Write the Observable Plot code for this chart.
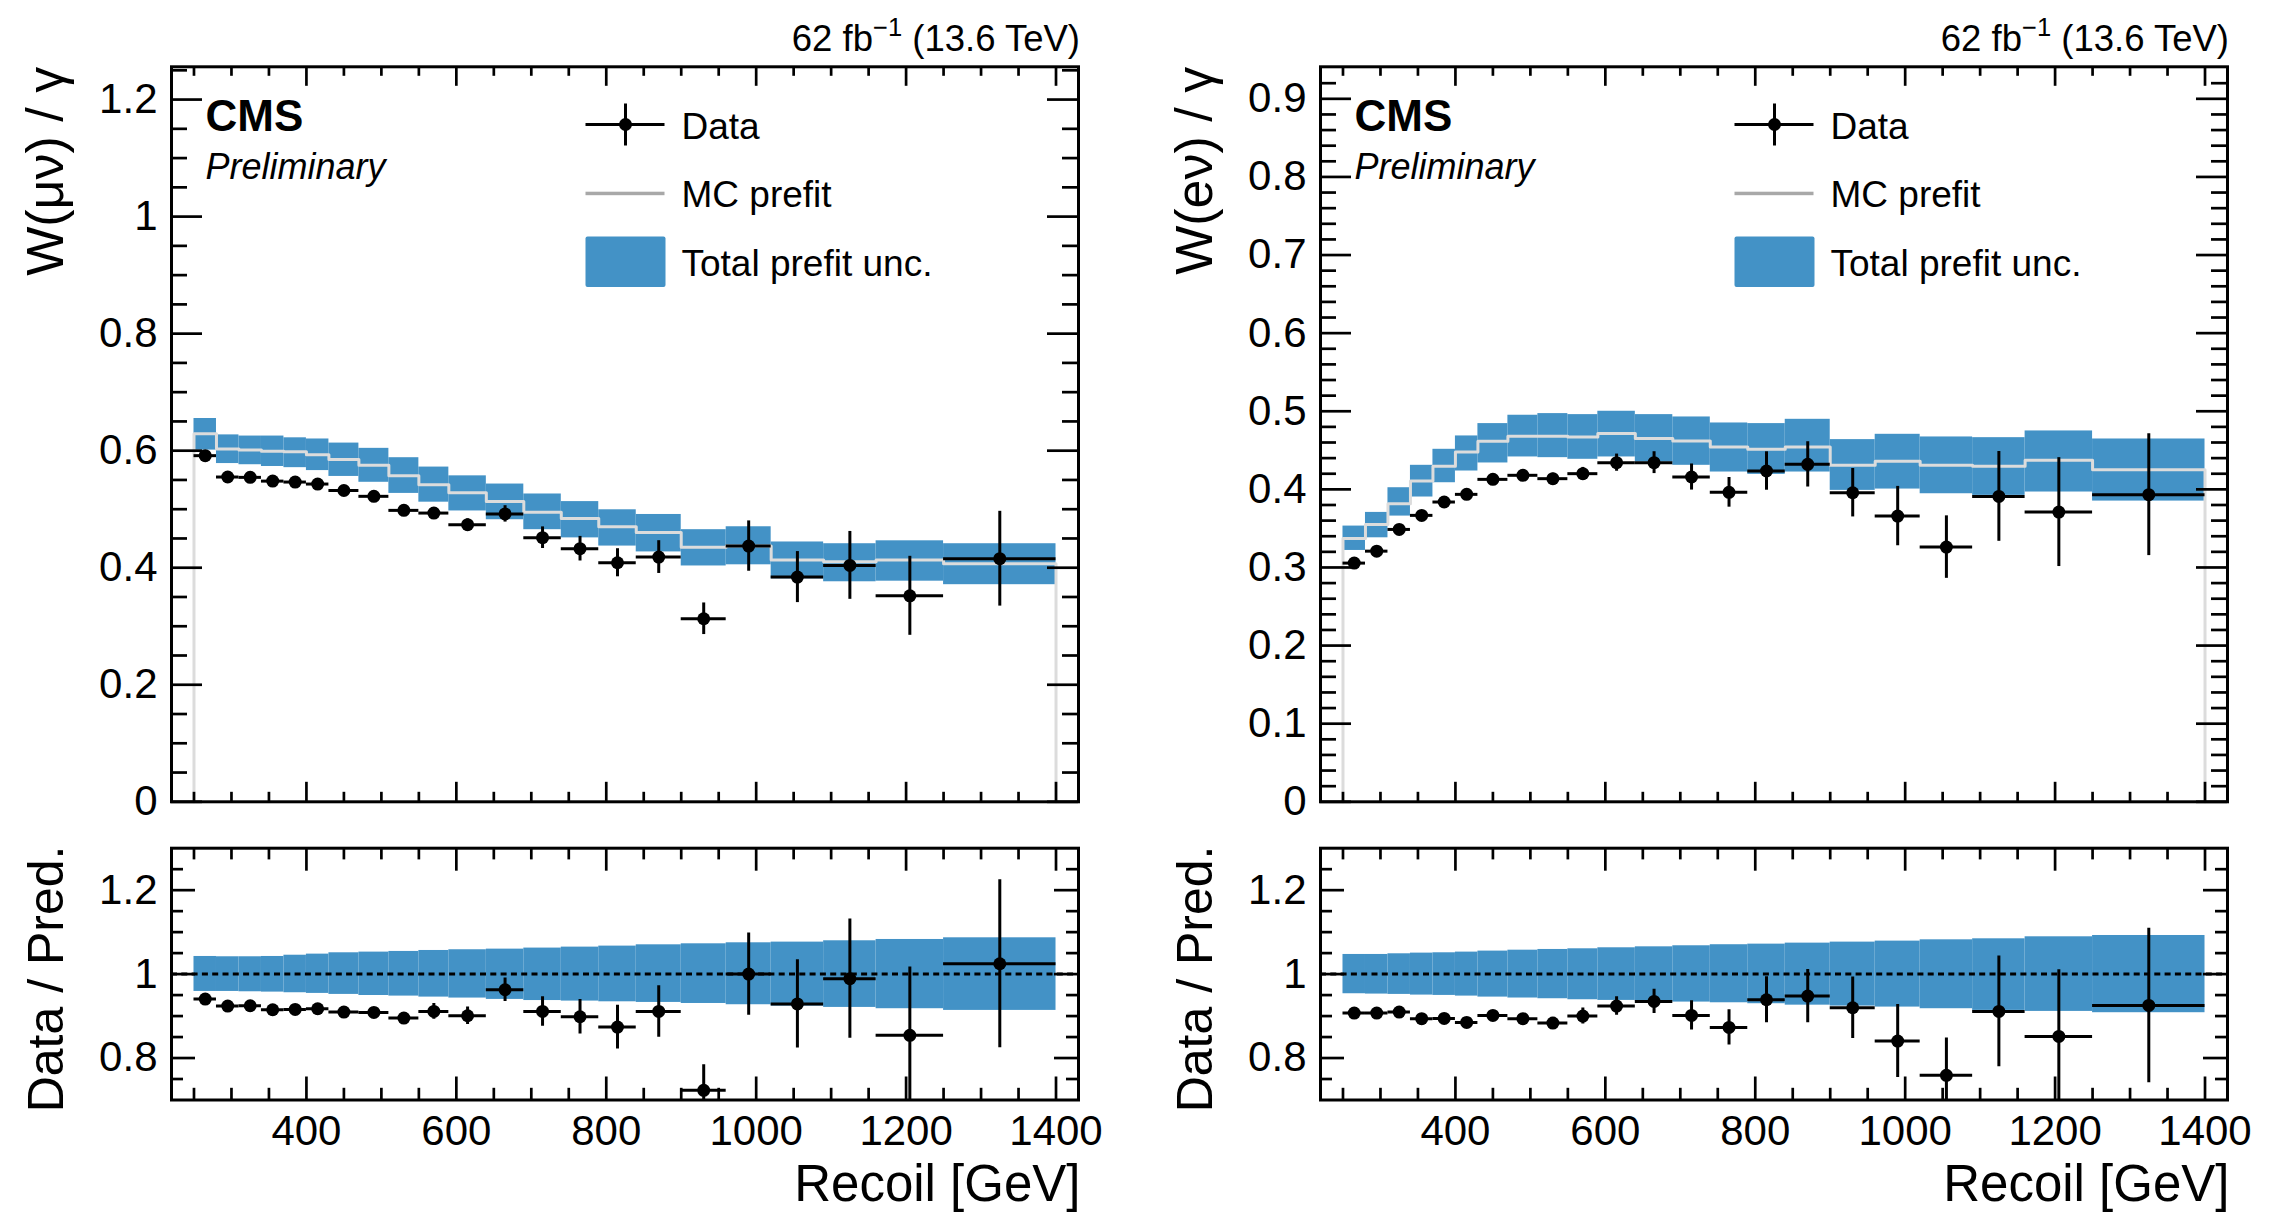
<!DOCTYPE html>
<html><head><meta charset="utf-8">
<script src="https://cdn.jsdelivr.net/npm/d3@7"></script>
<script src="https://cdn.jsdelivr.net/npm/@observablehq/plot@0.6"></script>
<style>
body{margin:0;background:#fff;}
#root{position:relative;width:2284px;height:1222px;overflow:hidden;background:#fff;font-family:"Liberation Sans",Arial,sans-serif;}
.panel{position:absolute;width:1142px;}
.lumi{position:absolute;font-size:36.5px;line-height:1;white-space:nowrap;color:#000;font-family:"Liberation Sans",Arial,sans-serif;}
.lumi sup{font-size:0.7em;vertical-align:0.6em;line-height:0;}
</style></head><body><div id="root"></div>
<script>
// ---------------- data ----------------
const edges = [250,280,310,340,370,400,430,470,510,550,590,640,690,740,790,840,900,960,1020,1090,1160,1250,1400];

// W(mu nu) / gamma
const mcMu     = [0.629,0.603,0.601,0.599,0.598,0.593,0.585,0.575,0.557,0.542,0.528,0.513,0.495,0.484,0.470,0.460,0.435,0.437,0.413,0.410,0.413,0.407];
const bandMuHi = [0.655,0.627,0.625,0.625,0.622,0.620,0.613,0.604,0.588,0.572,0.557,0.543,0.526,0.513,0.499,0.491,0.465,0.470,0.444,0.441,0.446,0.441];
const bandMuLo = [0.601,0.578,0.576,0.573,0.571,0.566,0.556,0.546,0.527,0.512,0.497,0.482,0.465,0.451,0.437,0.427,0.403,0.405,0.381,0.376,0.377,0.371];
const dataMu   = [0.5915,0.555,0.5544,0.548,0.5464,0.543,0.532,0.522,0.498,0.4934,0.4735,0.492,0.4513,0.4325,0.4085,0.4182,0.3128,0.437,0.384,0.404,0.352,0.4154];
const errMu    = [0.004,0.005,0.005,0.005,0.005,0.006,0.006,0.007,0.007,0.008,0.010,0.014,0.0185,0.021,0.024,0.028,0.027,0.043,0.0436,0.058,0.0675,0.081];
const ratioMu    = [0.9405,0.9238,0.9246,0.915,0.9159,0.9175,0.9095,0.9087,0.8952,0.911,0.9008,0.9627,0.911,0.8984,0.8738,0.911,0.723,1.0,0.929,0.989,0.854,1.0246];
const ratioErrMu = [0.006,0.008,0.008,0.008,0.008,0.009,0.010,0.012,0.013,0.0187,0.021,0.028,0.035,0.041,0.052,0.0615,0.061,0.098,0.105,0.142,0.163,0.200];
const rBandMuHi  = [1.042,1.0413,1.0413,1.042,1.045,1.0476,1.0508,1.0524,1.054,1.0563,1.058,1.0595,1.062,1.0643,1.0667,1.0698,1.0722,1.0746,1.0762,1.0794,1.0825,1.0865];
const rBandMuLo  = [0.9587,0.9587,0.9579,0.9571,0.9556,0.954,0.9516,0.949,0.9476,0.9452,0.9429,0.9397,0.937,0.9357,0.934,0.9325,0.930,0.927,0.9238,0.9206,0.9175,0.9135];

// W(e nu) / gamma
const mcE     = [0.3372,0.3551,0.3816,0.4107,0.4295,0.4479,0.4615,0.4679,0.4679,0.4671,0.4714,0.465,0.462,0.4543,0.4513,0.4543,0.4308,0.4359,0.4308,0.4295,0.4372,0.4252];
const bandEHi = [0.353,0.3705,0.4021,0.4308,0.4513,0.4684,0.4842,0.4949,0.497,0.4957,0.500,0.4957,0.4927,0.485,0.4842,0.4897,0.4637,0.4705,0.4671,0.4662,0.4748,0.4645];
const bandELo = [0.3218,0.338,0.3658,0.3902,0.4085,0.4235,0.4338,0.4415,0.4406,0.4385,0.4415,0.435,0.4308,0.4222,0.4192,0.4222,0.3987,0.4004,0.3944,0.3923,0.3966,0.385];
const dataE   = [0.3056,0.3209,0.3487,0.3667,0.3838,0.3936,0.4128,0.418,0.4137,0.4201,0.4342,0.4342,0.4158,0.3962,0.4235,0.432,0.3957,0.3658,0.3261,0.391,0.3709,0.3932];
const errE    = [0.004,0.005,0.005,0.005,0.005,0.006,0.006,0.006,0.007,0.008,0.011,0.014,0.0167,0.019,0.0246,0.029,0.031,0.038,0.040,0.0575,0.0697,0.078];
const ratioE    = [0.9071,0.9071,0.9095,0.8937,0.8944,0.8849,0.9016,0.8937,0.8833,0.900,0.9238,0.9349,0.9016,0.873,0.9389,0.9476,0.9198,0.8405,0.7587,0.9111,0.8516,0.9254];
const ratioErrE = [0.006,0.007,0.008,0.008,0.008,0.009,0.010,0.011,0.012,0.019,0.022,0.029,0.035,0.042,0.055,0.0635,0.073,0.087,0.089,0.132,0.159,0.184];
const rBandEHi  = [1.0468,1.0468,1.0484,1.050,1.0508,1.0524,1.0548,1.057,1.0587,1.0603,1.0627,1.065,1.0675,1.070,1.0714,1.0738,1.0762,1.0786,1.0817,1.0841,1.0889,1.092];
const rBandELo  = [0.9532,0.9524,0.9516,0.950,0.9492,0.9476,0.9452,0.943,0.9413,0.9389,0.9373,0.935,0.9333,0.9317,0.9294,0.926,0.9238,0.9214,0.9175,0.9135,0.9111,0.908];

// axes / ticks
const xDomain = [220, 1430];
const xMajor = [400,600,800,1000,1200,1400];
const xMinor = [250,300,350,450,500,550,650,700,750,850,900,950,1050,1100,1150,1250,1300,1350];
const yMuDomain = [0, 1.256];
const yMuMajor = [0,0.2,0.4,0.6,0.8,1,1.2];
const yMuMinor = [0.05,0.1,0.15,0.25,0.3,0.35,0.45,0.5,0.55,0.65,0.7,0.75,0.85,0.9,0.95,1.05,1.1,1.15,1.25];
const yEDomain = [0, 0.941];
const yEMajor = [0,0.1,0.2,0.3,0.4,0.5,0.6,0.7,0.8,0.9];
const yEMinor = d3.range(0, 47).map(i => +(i*0.02).toFixed(2)).filter(v => Math.round(v*100) % 10 !== 0);
const rDomain = [0.7, 1.3];
const rMajor = [0.8,1,1.2];
const rMinor = [0.75,0.85,0.9,0.95,1.05,1.1,1.15,1.25];

const texts = {
  lumi: ["62 fb", "−1", " (13.6 TeV)"],
  cms: "CMS", prelim: "Preliminary",
  legData: "Data", legMC: "MC prefit", legUnc: "Total prefit unc.",
  yMu: "W(μν) / γ", yE: "W(eν) / γ", yRatio: "Data / Pred.", x: "Recoil [GeV]"
};

// ---------------- style ----------------
const BAND = "#4392c6";
const FONT = '"Liberation Sans", Arial, Helvetica, sans-serif';
const FW = 907, TOPH = 735, RATH = 251.8;
const fmt = d3.format("~g");
const styleObj = {fontFamily: FONT, fontSize: "42px", color: "black", background: "transparent", overflow: "visible"};

function makeBins() { return edges.slice(0, -1).map((lo, i) => ({lo, hi: edges[i + 1], c: (lo + edges[i + 1]) / 2, i})); }

function xTickMarks(yDom, H, xl) {
  const ky = (yDom[1] - yDom[0]) / H;
  const st = {stroke: "black", strokeWidth: 2.7};
  const out = [];
  for (const [vals, len] of [[xMajor, xl[0]], [xMinor, xl[1]]]) {
    out.push(Plot.ruleX(vals, {x: d => d, y1: () => yDom[0], y2: () => yDom[0] + len * ky, ...st}));
    out.push(Plot.ruleX(vals, {x: d => d, y1: () => yDom[1] - len * ky, y2: () => yDom[1], ...st}));
  }
  return out;
}
function yTickMarks(maj, min, yl) {
  const kx = (xDomain[1] - xDomain[0]) / FW;
  const st = {stroke: "black", strokeWidth: 2.7};
  const out = [];
  for (const [vals, len] of [[maj, yl[0]], [min, yl[1]]]) {
    out.push(Plot.ruleY(vals, {y: d => d, x1: () => xDomain[0], x2: () => xDomain[0] + len * kx, ...st}));
    out.push(Plot.ruleY(vals, {y: d => d, x1: () => xDomain[1] - len * kx, x2: () => xDomain[1], ...st}));
  }
  return out;
}

function topPanel(o) {
  const bins = makeBins().map(b => ({...b, mc: o.mc[b.i], bLo: o.bLo[b.i], bHi: o.bHi[b.i], v: o.data[b.i], e: o.err[b.i]}));
  const step = [{x: edges[0], y: 0}];
  bins.forEach(b => { step.push({x: b.lo, y: b.mc}); step.push({x: b.hi, y: b.mc}); });
  step.push({x: edges[edges.length - 1], y: 0});
  const frameRect = (l, t, w, h, fill, extra = {}) => Plot.frame({insetLeft: l, insetTop: t, insetRight: FW - l - w, insetBottom: TOPH - t - h, fill, stroke: "none", ...extra});
  return Plot.plot({
    width: 1142, height: 825, marginLeft: o.ml, marginRight: o.mr, marginTop: 66.3, marginBottom: 23.7,
    x: {domain: xDomain, axis: null, label: null},
    y: {domain: o.yDomain, label: null},
    style: styleObj,
    marks: [
      Plot.rect(bins, {x1: "lo", x2: "hi", y1: "bLo", y2: "bHi", fill: BAND}),
      Plot.line(step, {x: "x", y: "y", stroke: "#dcdcdc", strokeWidth: 3}),
      Plot.ruleY(bins, {y: "v", x1: "lo", x2: "hi", stroke: "black", strokeWidth: 3}),
      Plot.ruleX(bins, {x: "c", y1: d => d.v - d.e, y2: d => d.v + d.e, stroke: "black", strokeWidth: 3}),
      Plot.dot(bins, {x: "c", y: "v", r: 6.5, fill: "black"}),
      ...xTickMarks(o.yDomain, TOPH, [19.5, 9.5]),
      ...yTickMarks(o.yMajor, o.yMinor, [31, 16]),
      Plot.axisY({ticks: o.yMajor, anchor: "left", tickSize: 0, tickPadding: 14, tickFormat: fmt, label: null, fontSize: 42}),
      Plot.frame({stroke: "black", strokeWidth: 3}),
      // legend
      frameRect(414, 56.2, 79, 3, "black"),
      frameRect(452.5, 36.7, 3, 42, "black"),
      Plot.dot([0], {frameAnchor: "top-left", dx: 454, dy: 57.7, r: 6.5, fill: "black"}),
      frameRect(414, 124.9, 79, 3.5, "#a8a8a8"),
      frameRect(414, 169.7, 80, 50.5, BAND, {rx: 2}),
      Plot.text([texts.legData], {frameAnchor: "top-left", dx: 510, dy: 71.7, textAnchor: "start", lineAnchor: "bottom", fontSize: 37, fontFamily: FONT}),
      Plot.text([texts.legMC], {frameAnchor: "top-left", dx: 510, dy: 140.2, textAnchor: "start", lineAnchor: "bottom", fontSize: 37, fontFamily: FONT}),
      Plot.text([texts.legUnc], {frameAnchor: "top-left", dx: 510, dy: 208.7, textAnchor: "start", lineAnchor: "bottom", fontSize: 37, fontFamily: FONT}),
      Plot.text([texts.cms], {frameAnchor: "top-left", dx: 34, dy: 63.7, textAnchor: "start", lineAnchor: "bottom", fontSize: 44, fontWeight: "bold", fontFamily: FONT}),
      Plot.text([texts.prelim], {frameAnchor: "top-left", dx: 34, dy: 111.7, textAnchor: "start", lineAnchor: "bottom", fontSize: 36, fontStyle: "italic", fontFamily: FONT}),
      Plot.text([o.ylabel], {frameAnchor: "top-left", dx: -109, dy: 0, rotate: -90, textAnchor: "end", lineAnchor: "bottom", fontSize: 52, fontFamily: FONT})
    ]
  });
}

function ratioPanel(o) {
  const bins = makeBins().map(b => ({...b, r: o.r[b.i], re: o.re[b.i], bLo: o.bLo[b.i], bHi: o.bHi[b.i]}));
  return Plot.plot({
    width: 1142, height: 397, marginLeft: o.ml, marginRight: o.mr, marginTop: 22.7, marginBottom: 122.5,
    x: {domain: xDomain, label: null},
    y: {domain: rDomain, label: null},
    style: styleObj,
    marks: [
      Plot.rect(bins, {x1: "lo", x2: "hi", y1: "bLo", y2: "bHi", fill: BAND}),
      Plot.ruleY([1], {stroke: "black", strokeWidth: 3, strokeDasharray: "6,4.3"}),
      Plot.ruleY(bins, {y: "r", x1: "lo", x2: "hi", stroke: "black", strokeWidth: 3, clip: true}),
      Plot.ruleX(bins, {x: "c", y1: d => d.r - d.re, y2: d => d.r + d.re, stroke: "black", strokeWidth: 3, clip: true}),
      Plot.dot(bins, {x: "c", y: "r", r: 6.5, fill: "black", clip: true}),
      ...xTickMarks(rDomain, RATH, [23, 11.7]),
      ...yTickMarks(rMajor, rMinor, [24, 12]),
      Plot.axisX({ticks: xMajor, anchor: "bottom", tickSize: 0, tickPadding: 15, tickFormat: d => String(d), label: null, fontSize: 42}),
      Plot.axisY({ticks: rMajor, anchor: "left", tickSize: 0, tickPadding: 14, tickFormat: fmt, label: null, fontSize: 42}),
      Plot.frame({stroke: "black", strokeWidth: 3}),
      Plot.text([texts.yRatio], {frameAnchor: "top-left", dx: -109, dy: -2.7, rotate: -90, textAnchor: "end", lineAnchor: "bottom", fontSize: 50, fontFamily: FONT}),
      Plot.text([texts.x], {frameAnchor: "bottom-right", dx: 2, dy: 100.5, textAnchor: "end", lineAnchor: "bottom", fontSize: 51, fontFamily: FONT})
    ]
  });
}

const root = document.getElementById("root");
function place(el, left, top) {
  const d = document.createElement("div");
  d.className = "panel"; d.style.left = left + "px"; d.style.top = top + "px";
  d.appendChild(el); root.appendChild(d);
}
const L = {ml: 171, mr: 64}, R = {ml: 178, mr: 57};
place(topPanel({...L, mc: mcMu, bLo: bandMuLo, bHi: bandMuHi, data: dataMu, err: errMu, yDomain: yMuDomain, yMajor: yMuMajor, yMinor: yMuMinor, ylabel: texts.yMu}), 0, 0);
place(topPanel({...R, mc: mcE, bLo: bandELo, bHi: bandEHi, data: dataE, err: errE, yDomain: yEDomain, yMajor: yEMajor, yMinor: yEMinor, ylabel: texts.yE}), 1142, 0);
place(ratioPanel({...L, r: ratioMu, re: ratioErrMu, bLo: rBandMuLo, bHi: rBandMuHi}), 0, 825);
place(ratioPanel({...R, r: ratioE, re: ratioErrE, bLo: rBandELo, bHi: rBandEHi}), 1142, 825);

function lumi(rightX) {
  const d = document.createElement("div");
  d.className = "lumi";
  d.style.right = (2284 - rightX) + "px";
  d.style.top = "21px";
  d.innerHTML = `${texts.lumi[0]}<sup>${texts.lumi[1]}</sup>${texts.lumi[2]}`;
  root.appendChild(d);
}
lumi(1080); lumi(2229);
</script>
</body></html>
